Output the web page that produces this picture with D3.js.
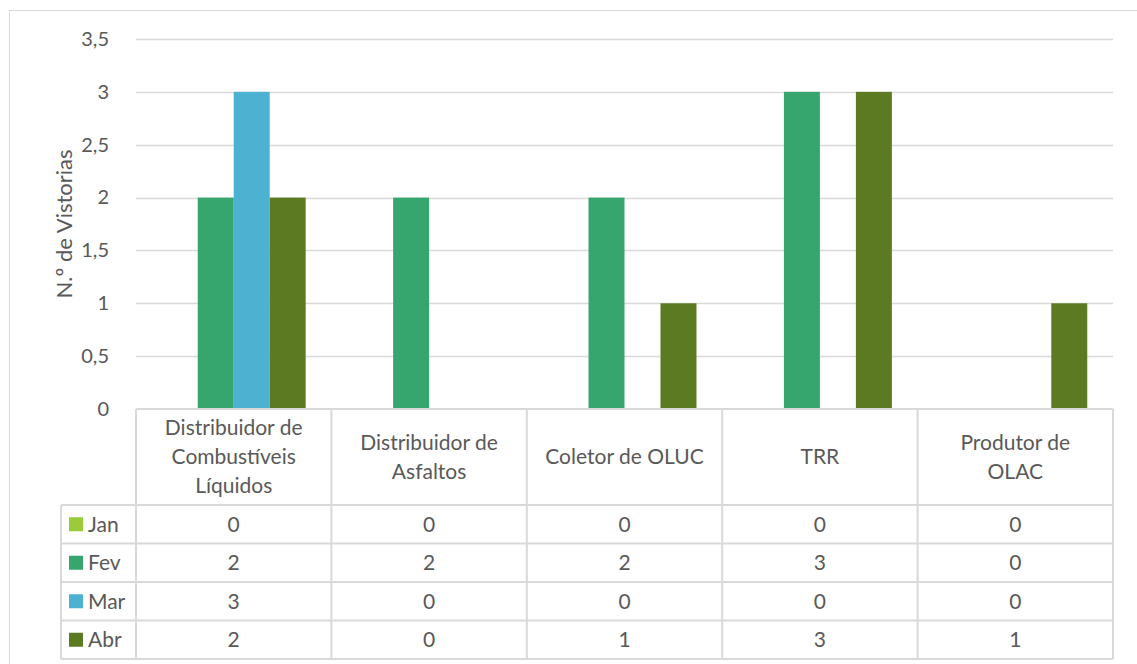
<!DOCTYPE html>
<html>
  <head>
    <meta charset="utf-8">
    <title>vistorias</title>
    <script src="https://cdn.jsdelivr.net/npm/d3@7"></script>
    <style>
      body { margin: 0; background: #fff; }
      text { font-family: Lato, "Open Sans", sans-serif; fill: #595959; }
    </style>
  </head>
  <body>
    <script>
      // dados
      var categorias = [
        ["Distribuidor de", "Combustíveis", "Líquidos"],
        ["Distribuidor de", "Asfaltos"],
        ["Coletor de OLUC"],
        ["TRR"],
        ["Produtor de", "OLAC"]
      ];
      var meses = ["Jan", "Fev", "Mar", "Abr"];
      var jan = [0, 0, 0, 0, 0];
      var fev = [2, 2, 2, 3, 0];
      var mar = [3, 0, 0, 0, 0];
      var abr = [2, 0, 1, 3, 1];
      var cores = ["#9bcb3a", "#36a56e", "#4db2d1", "#5b7a22"];
      var yTicks = [0, 0.5, 1, 1.5, 2, 2.5, 3, 3.5];

      var series = [jan, fev, mar, abr];

      var W = 1137, H = 664;
      var pLeft = 136, pRight = 1113, pTop = 39, pBottom = 409;
      var tableLeft = 61;
      var headerBottom = 505, rowH = 38.5;

      var svg = d3.select("body").append("svg")
        .attr("width", W).attr("height", H);

      // borda do gráfico
      svg.append("rect")
        .attr("x", 9.5).attr("y", 10.5)
        .attr("width", W + 10).attr("height", H + 10)
        .attr("fill", "none").attr("stroke", "#d9d9d9");

      var x0 = d3.scaleBand().domain(d3.range(categorias.length))
        .range([pLeft, pRight]).paddingInner(0).paddingOuter(0);
      var x1 = d3.scaleBand().domain(d3.range(meses.length))
        .range([0, x0.bandwidth()]).paddingInner(0).paddingOuter(0.715);
      var y = d3.scaleLinear().domain([0, 3.5]).range([pBottom, pTop]);

      // linhas de grade
      svg.append("g").selectAll("line")
        .data(yTicks.filter(function(d) { return d > 0; }))
        .enter().append("line")
        .attr("x1", pLeft).attr("x2", pRight)
        .attr("y1", function(d) { return Math.round(y(d)) + 0.5; })
        .attr("y2", function(d) { return Math.round(y(d)) + 0.5; })
        .attr("stroke", "#d9d9d9").attr("stroke-width", 1.5);

      // eixo y
      var yAxis = svg.append("g")
        .attr("transform", "translate(" + (pLeft - 24) + ",0)")
        .call(d3.axisLeft(y).tickValues(yTicks).tickSize(0)
          .tickFormat(function(d) { return String(d).replace(".", ","); }));
      yAxis.select(".domain").remove();
      yAxis.selectAll("text")
        .style("font-family", "Lato, sans-serif")
        .attr("font-size", 20).attr("fill", "#595959");

      svg.append("text")
        .attr("transform", "translate(64," + ((pTop + pBottom) / 2) + ") rotate(-90)")
        .attr("text-anchor", "middle")
        .attr("dy", "0.35em")
        .attr("font-size", 22)
        .text("N.º de Vistorias");

      // barras
      var grupos = svg.append("g").selectAll("g")
        .data(series).enter().append("g")
        .attr("fill", function(d, i) { return cores[i]; });
      grupos.each(function(vals, si) {
        d3.select(this).selectAll("rect")
          .data(vals).enter().append("rect")
          .attr("x", function(d, ci) { return x0(ci) + x1(si); })
          .attr("y", function(d) { return y(d); })
          .attr("width", x1.bandwidth())
          .attr("height", function(d) { return pBottom - y(d); });
      });

      // tabela de dados
      var grid = svg.append("g").attr("stroke", "#d9d9d9").attr("stroke-width", 2);
      var tableBottom = headerBottom + rowH * meses.length;
      grid.append("line").attr("x1", pLeft).attr("x2", pRight)
        .attr("y1", pBottom).attr("y2", pBottom);
      d3.range(meses.length + 1).forEach(function(i) {
        grid.append("line").attr("x1", tableLeft).attr("x2", pRight)
          .attr("y1", headerBottom + i * rowH).attr("y2", headerBottom + i * rowH);
      });
      grid.append("line").attr("x1", tableLeft).attr("x2", tableLeft)
        .attr("y1", headerBottom).attr("y2", tableBottom);
      d3.range(categorias.length + 1).forEach(function(i) {
        var xx = i < categorias.length ? x0(i) : pRight;
        grid.append("line").attr("x1", xx).attr("x2", xx)
          .attr("y1", pBottom).attr("y2", tableBottom);
      });

      // cabeçalho das categorias
      categorias.forEach(function(linhas, ci) {
        var cx = x0(ci) + x0.bandwidth() / 2;
        var lh = 29;
        var cy = (pBottom + headerBottom) / 2 - (linhas.length - 1) * lh / 2;
        linhas.forEach(function(t, k) {
          svg.append("text")
            .attr("x", cx).attr("y", cy + k * lh)
            .attr("dy", "0.35em")
            .attr("text-anchor", "middle")
            .attr("font-size", 21)
            .text(t);
        });
      });

      // linhas da tabela
      series.forEach(function(vals, si) {
        var cy = headerBottom + si * rowH + rowH / 2;
        svg.append("rect")
          .attr("x", 69).attr("y", cy - 7)
          .attr("width", 14).attr("height", 14)
          .attr("fill", cores[si]);
        svg.append("text")
          .attr("x", 88).attr("y", cy).attr("dy", "0.35em")
          .attr("font-size", 21)
          .text(meses[si]);
        vals.forEach(function(v, ci) {
          svg.append("text")
            .attr("x", x0(ci) + x0.bandwidth() / 2).attr("y", cy)
            .attr("dy", "0.35em")
            .attr("text-anchor", "middle")
            .attr("font-size", 21)
            .text(v);
        });
      });
    </script>
  </body>
</html>
